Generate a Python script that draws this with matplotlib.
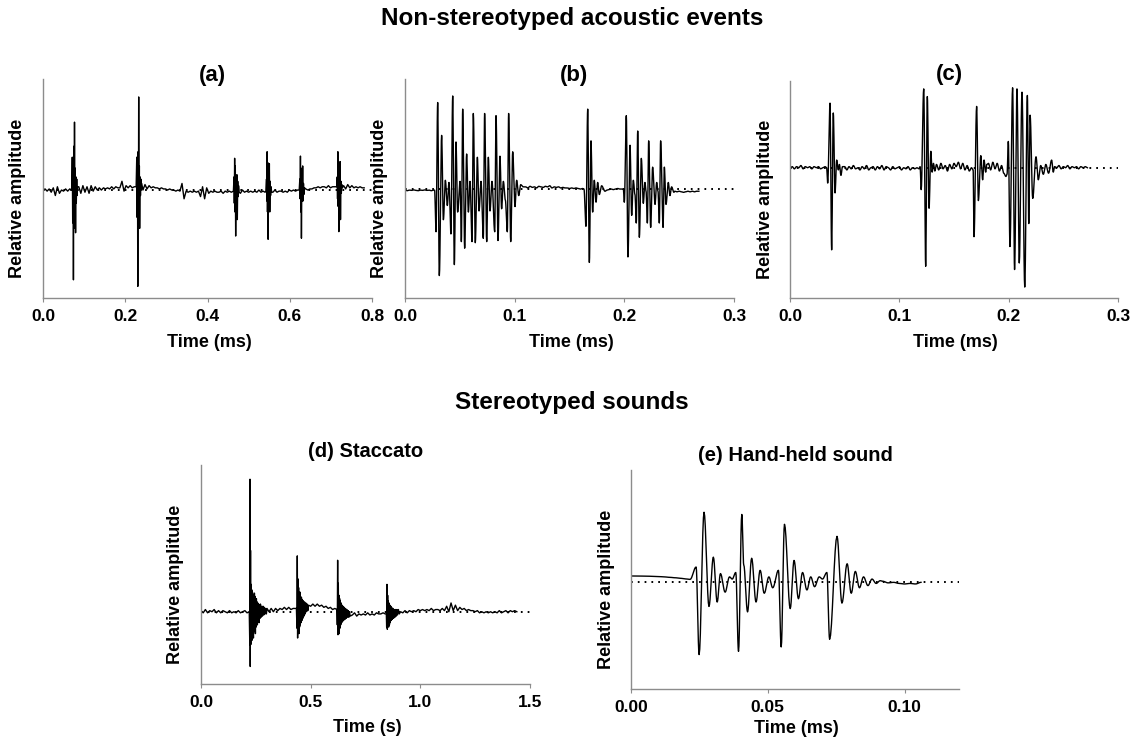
import numpy as np
import matplotlib
matplotlib.use('Agg')
import matplotlib.pyplot as plt

plt.rcParams['font.family'] = ['Liberation Sans', 'DejaVu Sans']
plt.rcParams['font.weight'] = 'bold'

# ---------------------------------------------------------------------------
# Waveform readings (time, relative amplitude). Baseline stretches are read on
# an even time step; bursts are read as their successive peaks and troughs.
# ---------------------------------------------------------------------------

# (a) time in ms
a_step = 0.005
a_noise_t0 = [0.000, 0.087, 0.243, 0.480, 0.559, 0.639, 0.731]
a_noise = [
    [0.00, 0.01, -0.01, 0.01, -0.02, 0.02, -0.05, 0.03, -0.03, 0.00, -0.01, 0.01, -0.01, 0.01],
    [0.03, -0.03, 0.04, -0.02, 0.03, -0.03, 0.04, -0.01, 0.03, 0.00, 0.02, 0.00, 0.02, 0.01,
     0.02, 0.01, 0.03, 0.01, 0.03, 0.02, 0.02, 0.08, -0.01, 0.04, 0.02, 0.04, 0.02, 0.03],
    [0.00, 0.05, 0.01, 0.04, 0.02, 0.03, 0.02, 0.02, 0.01, 0.02, 0.01, 0.01, 0.00, 0.01,
     0.00, 0.00, -0.01, 0.00, -0.01, 0.06, -0.08, -0.01, -0.02, -0.01, -0.02, -0.01, -0.02,
     -0.01, -0.06, 0.03, -0.08, 0.02, -0.03, -0.01, -0.02, -0.01, -0.02, -0.02, -0.01,
     -0.03, -0.01, -0.02, -0.01, -0.02],
    [-0.03, 0.00, -0.02, -0.01, -0.02, -0.01, -0.02, -0.01, -0.02, 0.00, -0.02, -0.01, -0.02],
    [-0.02, 0.00, -0.02, -0.01, -0.01, -0.02, -0.01, -0.02, 0.00, -0.01, 0.00, -0.01, 0.00],
    [0.01, 0.00, 0.01, 0.01, 0.02, 0.02, 0.03, 0.02, 0.03, 0.03, 0.02, 0.04, 0.02, 0.03, 0.03],
    [0.04, 0.01, 0.05, 0.02, 0.04, 0.02, 0.03, 0.02, 0.03, 0.02, 0.02],
]
a_bursts_t = [
    [0.0700, 0.0712, 0.0722, 0.0732, 0.0740, 0.0750, 0.0758, 0.0766, 0.0775, 0.0784,
     0.0792, 0.0800, 0.0810, 0.0820, 0.0830, 0.0840],
    [0.2265, 0.2280, 0.2290, 0.2298, 0.2305, 0.2313, 0.2320, 0.2327, 0.2335, 0.2343,
     0.2350, 0.2360, 0.2370, 0.2380, 0.2390, 0.2400],
    [0.4630, 0.4645, 0.4652, 0.4660, 0.4668, 0.4676, 0.4685, 0.4695, 0.4705, 0.4715,
     0.4725, 0.4735, 0.4745, 0.4755, 0.4770],
    [0.5420, 0.5435, 0.5442, 0.5450, 0.5458, 0.5466, 0.5474, 0.5484, 0.5494, 0.5504,
     0.5514, 0.5524, 0.5534, 0.5545, 0.5560],
    [0.6230, 0.6245, 0.6252, 0.6260, 0.6268, 0.6276, 0.6284, 0.6294, 0.6304, 0.6314,
     0.6324, 0.6334, 0.6344, 0.6360],
    [0.7140, 0.7155, 0.7162, 0.7170, 0.7178, 0.7186, 0.7194, 0.7204, 0.7214, 0.7224,
     0.7234, 0.7244, 0.7254, 0.7265, 0.7280],
]
a_bursts_y = [
    [0.00, 0.30, -0.30, 0.25, -0.82, 0.40, -0.35, 0.62, -0.30, 0.20, -0.39, 0.12, -0.12,
     0.10, -0.05, 0.03],
    [0.03, 0.30, -0.25, 0.20, -0.88, 0.35, -0.30, 0.85, -0.30, 0.22, -0.35, 0.12, -0.05,
     0.10, 0.00, 0.06],
    [-0.01, 0.12, -0.12, 0.29, -0.20, 0.22, -0.42, 0.10, -0.15, 0.14, -0.27, 0.08, -0.06,
     0.04, -0.02],
    [-0.01, 0.10, -0.10, 0.35, -0.20, 0.25, -0.45, 0.15, -0.12, 0.24, -0.20, 0.08, -0.05,
     0.03, -0.02],
    [0.00, 0.10, -0.08, 0.31, -0.20, 0.20, -0.44, 0.10, -0.10, 0.22, -0.10, 0.06, -0.04, 0.02],
    [0.03, 0.12, -0.08, 0.35, -0.15, 0.22, -0.38, 0.12, -0.10, 0.26, -0.27, 0.08, -0.03,
     0.05, 0.02],
]

# (b) time in ms
b_step = 0.002
b_noise_t0 = [0.000, 0.110, 0.184, 0.246]
b_noise = [
    [-0.01, -0.015, -0.01, -0.012, -0.008, -0.012, -0.015, -0.01, -0.012, -0.008, -0.012,
     -0.01, -0.015, -0.01],
    [0.02, 0.01, 0.025, 0.015, 0.02, 0.01, 0.025, 0.02, 0.015, 0.025, 0.02, 0.03, 0.01, 0.02,
     0.015, 0.02, 0.01, 0.015, 0.01, 0.01, 0.005, 0.01, 0.005, 0.01, 0.005, 0.0, 0.005],
    [-0.01, -0.005, 0.0, -0.005, 0.0, 0.005, 0.0, 0.0],
    [-0.02, -0.025, -0.02, -0.025, -0.03, -0.025, -0.02, -0.025, -0.02, -0.025, -0.02, -0.02],
]
b_bursts_t = [
    [0.0270, 0.0283, 0.0298, 0.0313, 0.0334, 0.0350, 0.0368, 0.0386, 0.0401, 0.0419,
     0.0435, 0.0450, 0.0465, 0.0480, 0.0502, 0.0514, 0.0526, 0.0544, 0.0562, 0.0578,
     0.0593, 0.0611, 0.0623, 0.0641, 0.0660, 0.0675, 0.0693, 0.0714, 0.0726, 0.0745,
     0.0760, 0.0775, 0.0793, 0.0818, 0.0830, 0.0848, 0.0866, 0.0881, 0.0897, 0.0915,
     0.0933, 0.0945, 0.0964, 0.0982, 0.1003, 0.1018, 0.1037, 0.1055, 0.1079],
    [0.1632, 0.1650, 0.1666, 0.1681, 0.1696, 0.1711, 0.1726, 0.1742, 0.1757, 0.1772,
     0.1793, 0.1824],
    [0.1991, 0.2000, 0.2018, 0.2033, 0.2052, 0.2067, 0.2082, 0.2097, 0.2109, 0.2122,
     0.2137, 0.2155, 0.2173, 0.2188, 0.2198, 0.2210, 0.2222, 0.2240, 0.2258, 0.2280,
     0.2295, 0.2307, 0.2319, 0.2331, 0.2353, 0.2365, 0.2380, 0.2401, 0.2416, 0.2431, 0.2452],
]
b_bursts_y = [
    [-0.01, -0.39, 0.79, -0.79, 0.49, -0.28, 0.08, -0.15, 0.06, -0.41,
     0.85, -0.69, 0.43, -0.21, 0.07, -0.48, 0.73, -0.54, 0.32, -0.21,
     0.07, -0.48, 0.69, -0.49, 0.29, -0.20, 0.07, -0.45, 0.69, -0.48,
     0.29, -0.20, 0.07, -0.39, 0.67, -0.47, 0.30, -0.18, 0.07, -0.10,
     -0.39, 0.69, -0.48, 0.34, -0.16, 0.08, -0.06, 0.04, 0.02],
    [0.00, -0.34, 0.73, -0.67, 0.44, -0.21, 0.08, -0.12, 0.06, -0.05, 0.03, -0.02],
    [0.00, -0.12, 0.67, -0.62, 0.40, -0.24, 0.08, -0.05, -0.31, 0.53,
     -0.44, 0.28, -0.13, 0.06, -0.02, -0.31, 0.44, -0.35, 0.20, -0.14,
     0.06, -0.02, -0.31, 0.44, -0.35, 0.20, -0.14, 0.06, -0.06, 0.02, -0.03],
]

# (c) time in ms
c_step = 0.002
c_noise_t0 = [0.000, 0.050, 0.134, 0.1815, 0.244]
c_noise = [
    [0.00, 0.01, -0.01, 0.01, 0.00, 0.02, -0.01, 0.01, 0.00, 0.01, -0.01, 0.01, 0.00, 0.01,
     -0.01, 0.00, 0.01],
    [0.01, -0.02, 0.01, -0.01, 0.02, -0.01, 0.00, -0.02, 0.01, -0.01, 0.02, -0.02, 0.00, 0.01,
     -0.02, 0.01, -0.01, 0.02, -0.02, 0.01, 0.00, -0.02, 0.01, -0.01, 0.00, 0.01, -0.02, 0.00,
     -0.01, 0.01, -0.02, 0.00, -0.01, 0.00, -0.01],
    [0.03, -0.02, 0.04, -0.01, 0.02, -0.03, 0.03, -0.01, 0.04, 0.01, 0.05, -0.01, 0.04, -0.02,
     0.02, -0.03, 0.00],
    [0.04, -0.02, 0.05, -0.01, 0.04, -0.03, 0.02, -0.05, -0.08],
    [0.00, 0.02, -0.01, 0.01, 0.00, 0.02, -0.01, 0.01, 0.00, 0.01, -0.01, 0.01, 0.00, 0.01, 0.00],
]
c_bursts_t = [
    [0.0335, 0.0345, 0.0366, 0.0381, 0.0396, 0.0412, 0.0427, 0.0442, 0.0452, 0.0466, 0.0480],
    [0.1190, 0.1200, 0.1223, 0.1241, 0.1256, 0.1272, 0.1288, 0.1300, 0.1312, 0.1325],
    [0.1675, 0.1683, 0.1707, 0.1723, 0.1745, 0.1762, 0.1775, 0.1790, 0.1800],
    [0.1985, 0.1997, 0.2012, 0.2036, 0.2054, 0.2076, 0.2097, 0.2122, 0.2147, 0.2171,
     0.2184, 0.2196, 0.2220, 0.2250, 0.2271, 0.2293, 0.2317, 0.2340, 0.2365, 0.2393,
     0.2408, 0.2420],
]
c_bursts_y = [
    [0.00, -0.14, 0.59, -0.75, 0.50, -0.23, 0.07, -0.02, 0.03, -0.07, 0.01],
    [0.01, -0.20, 0.72, -0.90, 0.65, -0.37, 0.15, -0.04, 0.04, -0.03],
    [-0.02, -0.63, 0.56, -0.30, 0.11, -0.11, 0.07, -0.04, 0.03],
    [-0.06, 0.24, -0.72, 0.73, -0.93, 0.72, -0.87, 0.69, -1.09, 0.66,
     -0.51, 0.48, -0.28, 0.10, -0.11, 0.02, -0.06, 0.03, -0.05, 0.07,
     -0.04, 0.01],
]

# (d) time in s
d_step = 0.01
d_noise_t0 = [0.00, 0.31, 0.50, 0.69, 0.91]
d_noise = [
    [0.01, -0.01, 0.02, -0.01, 0.01, 0.00, 0.02, -0.01, 0.01, -0.01, 0.01, 0.00, -0.01, 0.01,
     -0.01, 0.00, -0.01, 0.01, -0.01, 0.00, 0.01, -0.01],
    [0.00, 0.03, 0.00, 0.03, 0.01, 0.03, 0.02, 0.04, 0.02, 0.04, 0.02, 0.03, 0.03],
    [0.05, 0.07, 0.05, 0.07, 0.05, 0.06, 0.04, 0.05, 0.03, 0.04, 0.02, 0.03],
    [-0.03, -0.01, -0.04, -0.02, -0.03, -0.02, -0.03, -0.01, -0.03, -0.02, -0.03, -0.01,
     -0.02, -0.02, -0.01, -0.02],
    [0.00, -0.01, 0.01, -0.01, 0.01, 0.00, 0.01, 0.00, 0.02, 0.01, 0.02, 0.01, 0.02, 0.01,
     0.03, 0.01, 0.02, 0.02, 0.01, 0.03, 0.01, 0.05, 0.00, 0.08, 0.01, 0.06, 0.01, 0.04,
     0.02, 0.03, 0.01, 0.02, 0.01, 0.01, 0.00, 0.01, -0.01, 0.00, -0.01, 0.00, -0.01, 0.00,
     -0.01, 0.00, -0.01, 0.01, -0.01, 0.00, 0.01, -0.01, 0.01, 0.00, 0.01, 0.00],
]
d_bursts_t = [
    [0.2200, 0.2225, 0.2234, 0.2245, 0.2258, 0.2270, 0.2285, 0.2300, 0.2315, 0.2330,
     0.2345, 0.2360, 0.2375, 0.2390, 0.2405, 0.2420, 0.2435, 0.2450, 0.2465, 0.2480,
     0.2495, 0.2510, 0.2525, 0.2540, 0.2555, 0.2570, 0.2590, 0.2610, 0.2630, 0.2650,
     0.2670, 0.2690, 0.2710, 0.2740, 0.2770, 0.2800, 0.2830, 0.2860, 0.2890, 0.2920,
     0.2950, 0.2980, 0.3010],
    [0.4350, 0.4375, 0.4390, 0.4405, 0.4420, 0.4435, 0.4450, 0.4465, 0.4480, 0.4495,
     0.4510, 0.4525, 0.4540, 0.4560, 0.4580, 0.4600, 0.4620, 0.4640, 0.4660, 0.4690,
     0.4720, 0.4750, 0.4780, 0.4810, 0.4840, 0.4870, 0.4900],
    [0.6200, 0.6215, 0.6230, 0.6245, 0.6260, 0.6275, 0.6290, 0.6305, 0.6320, 0.6335,
     0.6350, 0.6370, 0.6390, 0.6410, 0.6430, 0.6450, 0.6470, 0.6500, 0.6530, 0.6560,
     0.6590, 0.6620, 0.6650, 0.6680, 0.6710, 0.6740, 0.6770, 0.6800],
    [0.8450, 0.8465, 0.8480, 0.8495, 0.8510, 0.8525, 0.8540, 0.8555, 0.8570, 0.8590,
     0.8610, 0.8630, 0.8650, 0.8670, 0.8690, 0.8720, 0.8750, 0.8780, 0.8810, 0.8840,
     0.8870, 0.8900, 0.8930, 0.8960, 0.9000, 0.9040],
]
d_bursts_y = [
    [0.00, -0.30, 1.21, -0.50, 0.56, -0.30, 0.25, -0.20, 0.20, -0.26,
     0.18, -0.22, 0.15, -0.24, 0.13, -0.18, 0.17, -0.16, 0.14, -0.20,
     0.10, -0.14, 0.12, -0.10, 0.09, -0.12, 0.08, -0.09, 0.07, -0.10,
     0.06, -0.06, 0.07, -0.05, 0.05, -0.04, 0.05, -0.03, 0.04, -0.02,
     0.03, -0.02, 0.03],
    [0.03, -0.15, 0.51, -0.24, 0.30, -0.18, 0.22, -0.20, 0.16, -0.14,
     0.18, -0.12, 0.14, -0.10, 0.13, -0.08, 0.11, -0.06, 0.10, -0.04,
     0.09, -0.02, 0.08, 0.00, 0.07, 0.01, 0.06],
    [0.02, -0.12, 0.47, -0.21, 0.26, -0.18, 0.15, -0.20, 0.12, -0.15,
     0.10, -0.12, 0.08, -0.10, 0.06, -0.09, 0.05, -0.08, 0.04, -0.07,
     0.03, -0.06, 0.02, -0.05, 0.01, -0.05, 0.00, -0.04],
    [-0.02, -0.14, 0.25, -0.16, 0.15, -0.12, 0.10, -0.14, 0.08, -0.12,
     0.06, -0.10, 0.05, -0.08, 0.04, -0.07, 0.03, -0.06, 0.02, -0.05,
     0.02, -0.04, 0.02, -0.03, 0.02, -0.02],
]

# (e) time in ms
e_step = 0.002
e_noise_t0 = [0.000, 0.092]
e_noise = [
    [0.058, 0.058, 0.057, 0.056, 0.055, 0.053, 0.050, 0.046, 0.042, 0.037, 0.031],
    [0.010, -0.005, 0.000, -0.010, -0.015, -0.010, -0.015, 0.000],
]
e_bursts_t = [
    [0.0216, 0.0238, 0.0249, 0.0267, 0.0285, 0.0301, 0.0315, 0.0327, 0.0344, 0.0360,
     0.0370, 0.0383, 0.0393, 0.0405, 0.0412, 0.0426, 0.0441, 0.0457, 0.0472, 0.0487,
     0.0504, 0.0518, 0.0539, 0.0549, 0.0561, 0.0582, 0.0596, 0.0612, 0.0627, 0.0643,
     0.0657, 0.0671, 0.0688, 0.0700, 0.0716, 0.0726, 0.0753, 0.0771, 0.0790, 0.0805,
     0.0820, 0.0835, 0.0850, 0.0866, 0.0881, 0.0896, 0.0911],
]
e_bursts_y = [
    [0.027, 0.14, -0.66, 0.64, -0.22, 0.23, -0.18, 0.08, -0.09, 0.05,
     0.03, 0.09, -0.63, 0.62, 0.16, -0.27, 0.22, -0.18, 0.11, -0.10,
     0.05, -0.05, 0.11, -0.59, 0.53, -0.24, 0.20, -0.15, 0.09, -0.07,
     0.05, -0.04, 0.05, 0.03, 0.09, -0.52, 0.42, -0.19, 0.17, -0.10,
     0.10, -0.05, 0.05, -0.03, 0.03, -0.01, 0.015],
]


def build(step, noise_t0, noise, bursts_t, bursts_y):
    segs = []
    for t0, vals in zip(noise_t0, noise):
        segs.append((t0 + step * np.arange(len(vals)), np.asarray(vals, float)))
    for bt, by in zip(bursts_t, bursts_y):
        segs.append((np.asarray(bt, float), np.asarray(by, float)))
    segs.sort(key=lambda s: s[0][0])
    return (np.concatenate([s[0] for s in segs]),
            np.concatenate([s[1] for s in segs]))


def rounded(t, y, n=8):
    # draw each half-cycle as a half-cosine so the ringing looks smooth
    s = np.linspace(0, 1, n + 1)[1:]
    w = (1 - np.cos(np.pi * s)) / 2
    tt, yy = [t[0]], [y[0]]
    for i in range(len(t) - 1):
        tt.extend(t[i] + (t[i + 1] - t[i]) * s)
        yy.extend(y[i] + (y[i + 1] - y[i]) * w)
    return np.array(tt), np.array(yy)


panels = [
    dict(data=build(a_step, a_noise_t0, a_noise, a_bursts_t, a_bursts_y), smooth=False,
         rect=[43 / 1136, 1 - 298 / 745, 329 / 1136, 219 / 745], ylim=(-0.986, 1.014),
         xlim=(0, 0.8), ticks=[0, 0.2, 0.4, 0.6, 0.8], fmt='{:.1f}',
         title='(a)', tx=0.515, ty=1.015, tsize=16, xlabel='Time (ms)', xly=-0.205),
    dict(data=build(b_step, b_noise_t0, b_noise, b_bursts_t, b_bursts_y), smooth=True,
         rect=[405 / 1136, 1 - 298 / 745, 329 / 1136, 219 / 745], ylim=(-0.995, 1.005),
         xlim=(0, 0.3), ticks=[0, 0.1, 0.2, 0.3], fmt='{:.1f}',
         title='(b)', tx=0.514, ty=1.015, tsize=16, xlabel='Time (ms)', xly=-0.205),
    dict(data=build(c_step, c_noise_t0, c_noise, c_bursts_t, c_bursts_y), smooth=True,
         rect=[790 / 1136, 1 - 298 / 745, 328 / 1136, 217.3 / 745], ylim=(-1.19, 0.795),
         xlim=(0, 0.3), ticks=[0, 0.1, 0.2, 0.3], fmt='{:.1f}',
         title='(c)', tx=0.485, ty=1.03, tsize=16, xlabel='Time (ms)', xly=-0.207),
    dict(data=build(d_step, d_noise_t0, d_noise, d_bursts_t, d_bursts_y), smooth=False,
         rect=[201 / 1136, 1 - 684 / 745, 329 / 1136, 219 / 745], ylim=(-0.66, 1.34),
         xlim=(0, 1.5), ticks=[0, 0.5, 1.0, 1.5], fmt='{:.1f}',
         title='(d) Staccato', tx=0.50, ty=1.061, tsize=14.5, xlabel='Time (s)', xly=-0.20),
    dict(data=build(e_step, e_noise_t0, e_noise, e_bursts_t, e_bursts_y), smooth=True,
         rect=[631 / 1136, 1 - 689.3 / 745, 328.3 / 1136, 219.3 / 745], ylim=(-0.977, 1.026),
         xlim=(0, 0.12), ticks=[0, 0.05, 0.10], fmt='{:.2f}',
         title='(e) Hand-held sound', tx=0.50, ty=1.068, tsize=14.5, xlabel='Time (ms)', xly=-0.181),
]

spine_color = '#8c8c8c'

fig = plt.figure(figsize=(11.36, 7.45), dpi=100, facecolor='white')

for p in panels:
    ax = fig.add_axes(p['rect'])
    t, y = p['data']
    if p['smooth']:
        t, y = rounded(t, y)
    ax.axhline(0, color='black', lw=1.4, ls=(0, (0.9, 2.6)), zorder=1)
    ax.plot(t, y, color='black', lw=1.0, zorder=2)
    ax.set_xlim(*p['xlim'])
    ax.set_ylim(*p['ylim'])
    ax.set_xticks(p['ticks'])
    ax.set_xticklabels([p['fmt'].format(v) for v in p['ticks']])
    ax.set_yticks([])
    for side in ['top', 'right']:
        ax.spines[side].set_visible(False)
    for side in ['left', 'bottom']:
        ax.spines[side].set_color(spine_color)
        ax.spines[side].set_linewidth(1.0)
    ax.tick_params(axis='x', direction='out', length=3, width=0.8, color=spine_color,
                   labelsize=12.5, pad=5)
    ax.text(p['tx'], p['ty'], p['title'], transform=ax.transAxes, ha='center',
            va='center', fontsize=p['tsize'], fontweight='bold')
    ax.text(0.505, p['xly'], p['xlabel'], transform=ax.transAxes, ha='center',
            va='center', fontsize=13, fontweight='bold')
    ax.text(-0.076, 0.455, 'Relative amplitude', transform=ax.transAxes, rotation=90,
            ha='center', va='center', fontsize=13, fontweight='bold')

fig.text(0.5035, 0.975, 'Non-stereotyped acoustic events', ha='center', va='center',
         fontsize=17.5, fontweight='bold')
fig.text(0.5035, 0.4604, 'Stereotyped sounds', ha='center', va='center',
         fontsize=17.5, fontweight='bold')

fig.savefig('out.png', dpi=100, facecolor='white')
